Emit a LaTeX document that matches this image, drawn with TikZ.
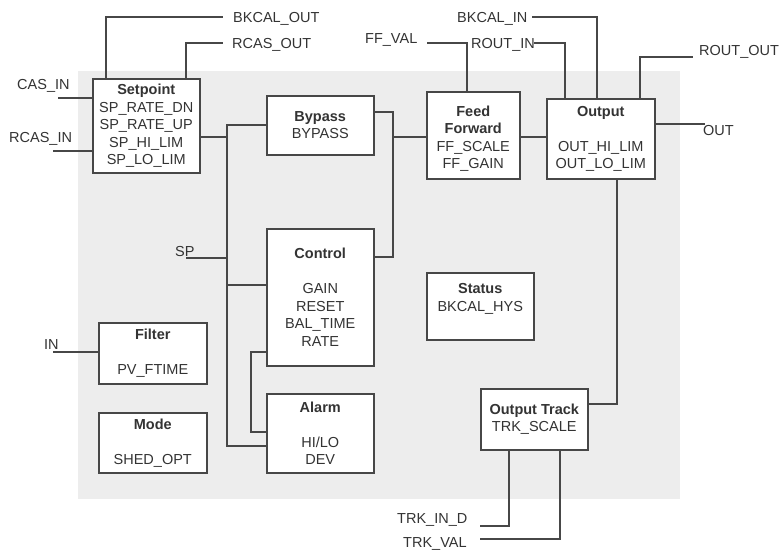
\documentclass[tikz,border=0pt]{standalone}
\usepackage{fontspec}
\setmainfont{Liberation Sans}
\definecolor{bg}{HTML}{EDEDED}
\definecolor{ln}{HTML}{474747}
\definecolor{tx}{HTML}{333333}
\begin{document}
\begin{tikzpicture}[x=1pt,y=-1pt,
  box/.style={draw=ln,line width=1.5pt,fill=white,anchor=north west,inner sep=0pt,
    align=center,text=tx,font=\fontsize{14.5}{17.5}\selectfont},
  lbl/.style={text=tx,inner sep=0pt,anchor=base west,font=\fontsize{14.5}{17.5}\selectfont},
  wire/.style={draw=ln,line width=1.2pt}]
\useasboundingbox (0,0) rectangle (779,552);
\fill[white] (0,0) rectangle (779,552);
\fill[bg] (78,71) rectangle (680,499);

% boxes
\node[box,minimum width=107,minimum height=94] (sp) at (92,78)
  {\textbf{Setpoint}\\SP\_RATE\_DN\\SP\_RATE\_UP\\SP\_HI\_LIM\\SP\_LO\_LIM};
\node[box,minimum width=107,minimum height=59] (byp) at (266,95)
  {\textbf{Bypass}\\BYPASS};
\node[box,minimum width=93,minimum height=87] (ff) at (426,91)
  {\mbox{}\\\textbf{Feed}\\\textbf{Forward}\\FF\_SCALE\\FF\_GAIN};
\node[box,minimum width=108,minimum height=80] (out) at (546,98)
  {\textbf{Output}\\\mbox{}\\OUT\_HI\_LIM\\OUT\_LO\_LIM};
\node[box,minimum width=107,minimum height=137] (ctl) at (266,228)
  {\textbf{Control}\\\mbox{}\\GAIN\\RESET\\BAL\_TIME\\RATE};
\node[box,minimum width=107,minimum height=67] (sta) at (426,272)
  {\textbf{Status}\\BKCAL\_HYS\\\mbox{}};
\node[box,minimum width=108,minimum height=61] (fil) at (98,322)
  {\textbf{Filter}\\\mbox{}\\PV\_FTIME};
\node[box,minimum width=108,minimum height=60] (mod) at (98,412)
  {\textbf{Mode}\\\mbox{}\\SHED\_OPT};
\node[box,minimum width=107,minimum height=79] (alm) at (266,393)
  {\textbf{Alarm}\\\mbox{}\\HI/LO\\DEV};
\node[box,minimum width=107,minimum height=61] (ot) at (480,388)
  {\textbf{Output Track}\\TRK\_SCALE};

% labels
\node[lbl] (lbkout) at (233,22) {BKCAL\_OUT};
\node[lbl] (lrcout) at (232,48) {RCAS\_OUT};
\node[lbl] (lcasin) at (17,89) {CAS\_IN};
\node[lbl] (lrcasin) at (9,142) {RCAS\_IN};
\node[lbl] (lffval) at (365,43) {FF\_VAL};
\node[lbl] (lroutin) at (471,48) {ROUT\_IN};
\node[lbl] (lbkin) at (457,22) {BKCAL\_IN};
\node[lbl] (lroutout) at (699,55) {ROUT\_OUT};
\node[lbl] (lout) at (703,135) {OUT};
\node[lbl] (lsp) at (175,256) {SP};
\node[lbl] (lin) at (44,349) {IN};
\node[lbl] (ltrkin) at (397,523) {TRK\_IN\_D};
\node[lbl] (ltrkval) at (403,547) {TRK\_VAL};

% free ends and junctions
\coordinate (bkoutE) at (223,17);
\coordinate (rcoutE) at (223,43);
\coordinate (casS) at (58,98);
\coordinate (rcasS) at (53,151);
\coordinate (spS) at (186,258);
\coordinate (inS) at (53,352);
\coordinate (ffvS) at (427,43);
\coordinate (routS) at (534,43);
\coordinate (bkinS) at (532,17);
\coordinate (routoE) at (693,57);
\coordinate (outE) at (705,124);
\coordinate (trkinE) at (480,526);
\coordinate (trkvE) at (480,539);
\coordinate (lbT) at (227,125);
\coordinate (lbB) at (227,446);
\coordinate (rbT) at (393,112);
\coordinate (rbB) at (393,257);

% wires
\draw[wire] (sp.north -| 106,0) -- (106,17) -- (bkoutE);
\draw[wire] (sp.north -| 186,0) -- (186,43) -- (rcoutE);
\draw[wire] (casS) -- (sp.west |- casS);
\draw[wire] (rcasS) -- (sp.west |- rcasS);
\draw[wire] (sp.east |- 0,137) -- (lbT |- 0,137);
\draw[wire] (byp.west |- lbT) -- (lbT) -- (lbB) -- (alm.west |- lbB);
\draw[wire] (spS) -- (lbT |- spS);
\draw[wire] (lbT |- 0,285) -- (ctl.west |- 0,285);
\draw[wire] (ctl.west |- 0,352) -- (251,352) -- (251,432) -- (alm.west |- 0,432);
\draw[wire] (byp.east |- rbT) -- (rbT) -- (rbB) -- (ctl.east |- rbB);
\draw[wire] (rbT |- 0,137) -- (ff.west |- 0,137);
\draw[wire] (ff.east |- 0,137) -- (out.west |- 0,137);
\draw[wire] (ffvS) -- (467,43) -- (ff.north -| 467,0);
\draw[wire] (routS) -- (565,43) -- (out.north -| 565,0);
\draw[wire] (bkinS) -- (597,17) -- (out.north -| 597,0);
\draw[wire] (out.north -| 640,0) -- (640,57) -- (routoE);
\draw[wire] (out.east |- outE) -- (outE);
\draw[wire] (out.south -| 617,0) -- (617,404) -- (ot.east |- 0,404);
\draw[wire] (inS) -- (fil.west |- inS);
\draw[wire] (ot.south -| 509,0) -- (509,526) -- (trkinE);
\draw[wire] (ot.south -| 560,0) -- (560,539) -- (trkvE);
\end{tikzpicture}
\end{document}
